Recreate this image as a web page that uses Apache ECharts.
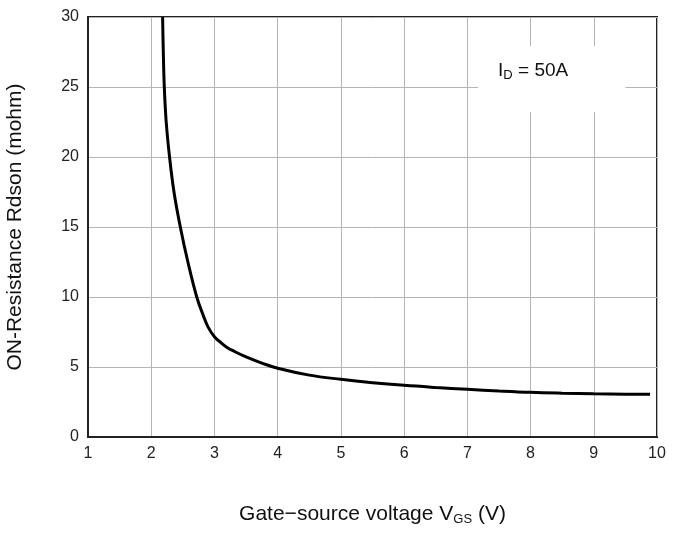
<!DOCTYPE html>
<html><head><meta charset="utf-8">
<script src="https://cdn.jsdelivr.net/npm/echarts@6/dist/echarts.min.js"></script>
<style>html,body{margin:0;padding:0;background:#fff}#c{width:684px;height:536px}</style>
</head><body><div id="c"></div>
<script>
// Gate-source voltage (V)
const vgs = [2.18, 2.191, 2.207, 2.237, 2.29, 2.36, 2.46, 2.58, 2.72, 2.83, 2.9, 3.0, 3.1, 3.2, 3.3, 3.5, 3.75, 4.0, 4.5, 5, 5.5, 6, 6.5, 7, 7.5, 8, 8.5, 9, 9.5, 9.89];
// ON-resistance (mohm)
const rdson = [30, 27.5, 25, 22.5, 20, 17.5, 15, 12.5, 10, 8.6, 7.85, 7.16, 6.75, 6.4, 6.15, 5.72, 5.28, 4.91, 4.42, 4.12, 3.88, 3.69, 3.54, 3.41, 3.29, 3.19, 3.13, 3.09, 3.06, 3.05];
const xTicks = [1, 10, 1];   // min, max, interval
const yTicks = [0, 30, 5];
const noteBox = [[7.17, 27.93], [9.5, 23.2]];
const noteText = '{n|I}{s|D}{n| = 50A}';

const font = 'Liberation Sans, Arial, sans-serif';
const chart = echarts.init(document.getElementById('c'), null, {renderer: 'canvas'});
chart.setOption({
  animation: false,
  backgroundColor: '#fff',
  grid: {left: 88, top: 17, right: 27, bottom: 99, outerBoundsMode: 'none', containLabel: false,
         show: true, borderColor: '#222', borderWidth: 2, backgroundColor: 'transparent'},
  xAxis: {
    type: 'value', min: xTicks[0], max: xTicks[1], interval: xTicks[2],
    axisLine: {show: true, lineStyle: {color: '#222', width: 2}},
    axisTick: {show: false},
    axisLabel: {color: '#222', fontSize: 16, fontFamily: font, margin: 9},
    splitLine: {show: true, lineStyle: {color: '#b4b4b4', width: 1}},
    name: '{n|Gate−source voltage V}{s|GS}{n| (V)}',
    nameLocation: 'middle', nameGap: 66,
    nameTextStyle: {rich: {
      n: {fontSize: 21, fontFamily: font, color: '#111'},
      s: {fontSize: 13, fontFamily: font, color: '#111', verticalAlign: 'bottom', padding: [10, 0, 0, 0]}
    }}
  },
  yAxis: {
    type: 'value', min: yTicks[0], max: yTicks[1], interval: yTicks[2],
    axisLine: {show: true, lineStyle: {color: '#222', width: 2}},
    axisTick: {show: false},
    axisLabel: {color: '#222', fontSize: 16, fontFamily: font, margin: 9},
    splitLine: {show: true, lineStyle: {color: '#b4b4b4', width: 1}},
    name: 'ON-Resistance Rdson (mohm)',
    nameLocation: 'middle', nameGap: 62,
    nameTextStyle: {fontSize: 21, fontFamily: font, color: '#111'}
  },
  series: [{
    type: 'line',
    data: vgs.map((v, i) => [v, rdson[i]]),
    smooth: 0.4,
    showSymbol: false,
    lineStyle: {color: '#000', width: 3},
    markArea: {
      silent: true,
      itemStyle: {color: '#fff', opacity: 1},
      label: {
        show: true, position: [20, 14], formatter: noteText,
        rich: {
          n: {fontSize: 19, fontFamily: font, color: '#111'},
          s: {fontSize: 13, fontFamily: font, color: '#111', verticalAlign: 'bottom', padding: [9, 0, 0, 0]}
        }
      },
      data: [[{coord: noteBox[0]}, {coord: noteBox[1]}]]
    }
  }]
});
</script></body></html>
